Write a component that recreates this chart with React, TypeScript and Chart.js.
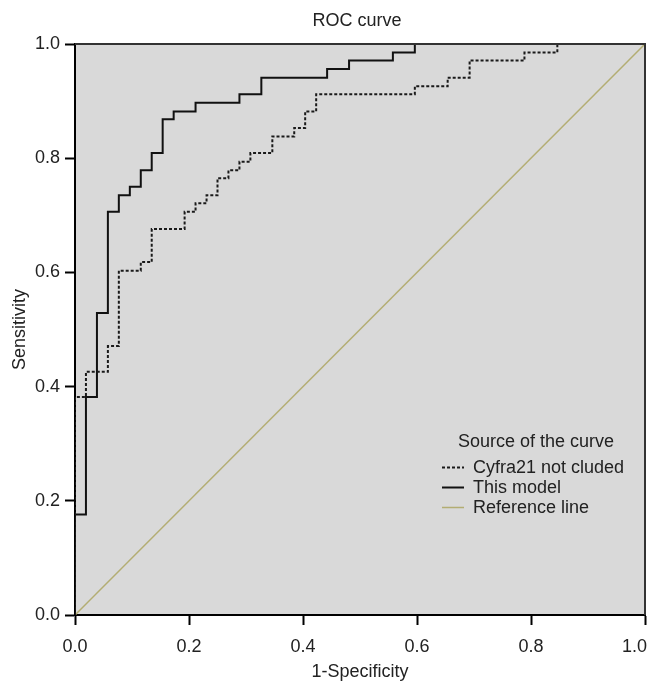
import React, { useEffect, useRef } from 'react';
import { Chart, registerables } from 'chart.js';

Chart.register(...registerables);

const FONT = "'Liberation Sans', Arial, Helvetica, sans-serif";

const chartTitle = 'ROC curve';
const xAxisTitle = '1-Specificity';
const yAxisTitle = 'Sensitivity';
const legendTitle = 'Source of the curve';
const seriesNames = ['Cyfra21 not cluded', 'This model', 'Reference line'];

// ROC step vertices (1-specificity, sensitivity)
const cyfraFpr = [0, 0, 0.0192, 0.0577, 0.0769, 0.1154, 0.1346, 0.1923, 0.2115, 0.2308, 0.25, 0.2692, 0.2885, 0.3077, 0.3462, 0.3846, 0.4038, 0.4231, 0.5962, 0.6538, 0.6923, 0.7885, 0.8462, 1];
const cyfraTpr = [0, 0.382, 0.426, 0.471, 0.603, 0.618, 0.676, 0.706, 0.721, 0.735, 0.765, 0.779, 0.794, 0.809, 0.838, 0.853, 0.882, 0.912, 0.926, 0.941, 0.971, 0.985, 1, 1];
const modelFpr = [0, 0, 0.0192, 0.0385, 0.0577, 0.0769, 0.0962, 0.1154, 0.1346, 0.1538, 0.1731, 0.2115, 0.2885, 0.3269, 0.4423, 0.4808, 0.5577, 0.5962, 1];
const modelTpr = [0, 0.176, 0.382, 0.529, 0.706, 0.735, 0.75, 0.779, 0.809, 0.868, 0.882, 0.897, 0.912, 0.941, 0.956, 0.971, 0.985, 1, 1];
const refFpr = [0, 1];
const refTpr = [0, 1];

const axisMin = 0;
const axisMax = 1;
const tickStep = 0.2;

const toPoints = (xs: number[], ys: number[]) => xs.map((x, i) => ({ x, y: ys[i] }));

const TEXT = '#222222';
const fmt = (v: any) => Number(v).toFixed(1);

const decorPlugin = {
  id: 'decor',
  beforeDraw(chart: any) {
    const { ctx, chartArea: a } = chart;
    ctx.save();
    ctx.fillStyle = '#d9d9d9';
    ctx.fillRect(a.left, a.top, a.right - a.left, a.bottom - a.top);
    ctx.restore();
  },
  afterDraw(chart: any) {
    const { ctx, chartArea: a } = chart;
    ctx.save();
    // top & right frame
    ctx.strokeStyle = '#333333';
    ctx.lineWidth = 2;
    ctx.beginPath();
    ctx.moveTo(a.left, a.top);
    ctx.lineTo(a.right, a.top);
    ctx.lineTo(a.right, a.bottom);
    ctx.stroke();

    ctx.fillStyle = TEXT;
    ctx.font = `18px ${FONT}`;
    ctx.textBaseline = 'middle';

    // last x tick label kept inside the canvas (right-aligned at axis end)
    const xs = chart.scales.x;
    ctx.textAlign = 'right';
    ctx.fillText(fmt(axisMax), xs.getPixelForValue(axisMax) + 2, a.bottom + 10 + 11 + 10.8);

    // chart title
    ctx.textAlign = 'center';
    ctx.fillText(chartTitle, (a.left + a.right) / 2 - 3, 21);

    // legend
    ctx.textAlign = 'left';
    ctx.fillText(legendTitle, 458, 442);
    const ds = chart.data.datasets;
    const rowY = [467.5, 487.5, 507.5];
    ds.forEach((d: any, i: number) => {
      const y = rowY[i];
      ctx.beginPath();
      ctx.strokeStyle = d.borderColor;
      ctx.lineWidth = d.borderWidth;
      ctx.setLineDash(d.borderDash || []);
      ctx.moveTo(442, y);
      ctx.lineTo(464, y);
      ctx.stroke();
      ctx.setLineDash([]);
      ctx.fillStyle = TEXT;
      ctx.fillText(d.label, 473, y + 1);
    });
    ctx.restore();
  },
};

export default function App() {
  const ref = useRef<HTMLCanvasElement | null>(null);

  useEffect(() => {
    document.body.style.margin = '0';
    const canvas = ref.current;
    if (!canvas) return;
    Chart.defaults.font.family = FONT;
    const chart = new Chart(canvas, {
      type: 'scatter',
      data: {
        datasets: [
          {
            label: seriesNames[0],
            data: toPoints(cyfraFpr, cyfraTpr),
            showLine: true,
            stepped: 'before',
            borderColor: '#1a1a1a',
            borderWidth: 2,
            borderDash: [3, 2],
            pointRadius: 0,
            fill: false,
          },
          {
            label: seriesNames[1],
            data: toPoints(modelFpr, modelTpr),
            showLine: true,
            stepped: 'before',
            borderColor: '#111111',
            borderWidth: 2,
            pointRadius: 0,
            fill: false,
          },
          {
            label: seriesNames[2],
            data: toPoints(refFpr, refTpr),
            showLine: true,
            borderColor: '#b3ad73',
            borderWidth: 1.5,
            pointRadius: 0,
            fill: false,
          },
        ],
      } as any,
      options: {
        animation: false,
        responsive: false,
        devicePixelRatio: 1,
        layout: { padding: { top: 44, right: 6, left: 0, bottom: 0 } },
        plugins: {
          legend: { display: false },
          tooltip: { enabled: false },
          title: { display: false },
        },
        scales: {
          x: {
            type: 'linear',
            min: axisMin,
            max: axisMax,
            afterFit: (s: any) => { s.height = 67; s.paddingLeft = 0; s.paddingRight = 0; },
            ticks: {
              stepSize: tickStep,
              padding: 11,
              color: TEXT,
              font: { size: 18, family: FONT },
              maxRotation: 0,
              callback: (v: any) => (Number(v) >= axisMax - 1e-9 ? '' : fmt(v)),
            },
            grid: { drawOnChartArea: false, tickLength: 10, tickWidth: 2, tickColor: '#000' },
            border: { display: true, color: '#000', width: 2 },
            title: {
              display: true,
              text: xAxisTitle,
              color: TEXT,
              font: { size: 18, family: FONT, lineHeight: 1 },
              padding: { top: 0, bottom: 1 },
            },
          },
          y: {
            type: 'linear',
            min: axisMin,
            max: axisMax,
            afterFit: (s: any) => { s.width = 75; s.paddingTop = 0; s.paddingBottom = 0; },
            ticks: {
              stepSize: tickStep,
              padding: 5,
              color: TEXT,
              font: { size: 18, family: FONT },
              callback: (v: any) => fmt(v),
            },
            grid: { drawOnChartArea: false, tickLength: 10, tickWidth: 2, tickColor: '#000' },
            border: { display: true, color: '#000', width: 2 },
            title: {
              display: true,
              text: yAxisTitle,
              color: TEXT,
              font: { size: 18, family: FONT, lineHeight: 1 },
              padding: { top: 11, bottom: 0 },
            },
          },
        },
      } as any,
      plugins: [decorPlugin],
    });
    return () => chart.destroy();
  }, []);

  return (
    <div style={{ width: 651, height: 682 }}>
      <canvas ref={ref} width={651} height={682} style={{ display: 'block' }} />
    </div>
  );
}
